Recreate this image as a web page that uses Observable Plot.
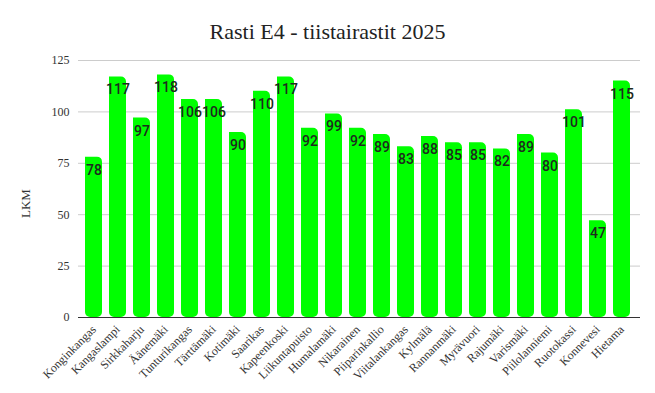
<!DOCTYPE html>
<html><head><meta charset="utf-8">
<script src="https://cdn.jsdelivr.net/npm/d3@7"></script>
<script src="https://cdn.jsdelivr.net/npm/@observablehq/plot@0.6"></script>
<style>
body{margin:0;background:#fff;}
#title{font-family:"Liberation Serif",serif;font-size:22px;color:#222;text-align:center;height:49px;line-height:64px;width:655px;}
#chart g[aria-label$="tick label"], #chart g[aria-label$="tick label"] text{font-family:"Liberation Serif",serif !important;font-size:12px !important;}
</style>
</head><body>
<div id="title">Rasti E4 - tiistairastit 2025</div>
<div id="chart"></div>
<script>
const places = ["Konginkangas","Kangaslampi","Sirkkaharju","Äänemäki","Tunturikangas","Tärttämäki","Kotimäki","Saarikas","Kapeenkoski","Liikuntapuisto","Humalamäki","Nikarainen","Piiparinkallio","Viitalankangas","Kylmälä","Rannanmäki","Myrävuori","Rajumäki","Varismäki","Piilolanniemi","Ruotokassi","Konnevesi","Hietama"];
const counts = [78,117,97,118,106,106,90,110,117,92,99,92,89,83,88,85,85,82,89,80,101,47,115];
const yTicks = [0,25,50,75,100,125];
const yLabel = "LKM";
const data = places.map((p,i)=>({place:p,count:counts[i]}));
const serif = "Liberation Serif, serif";

const chart = Plot.plot({
  width:655, height:345,
  marginLeft:78, marginRight:15, marginTop:11, marginBottom:77,
  style:{fontFamily:serif, fontSize:"12px", color:"#333"},
  x:{domain:places, paddingInner:0.29, paddingOuter:0.15, insetRight:3},
  y:{domain:[0,125]},
  marks:[
    Plot.gridY(yTicks,{stroke:"#ccc", strokeOpacity:1}),
    Plot.axisY(yTicks,{tickSize:0, tickPadding:9, label:null, fontSize:12, fontFamily:serif, fill:"#333"}),
    Plot.axisX({tickRotate:-45, tickSize:0, tickPadding:10, label:null, fontSize:12, fontFamily:serif, fill:"#333"}),
    Plot.text([yLabel],{frameAnchor:"left", dx:-53, dy:29, rotate:-90, fontSize:13, fill:"#333", fontFamily:serif}),
    Plot.barY(data,{x:"place", y:"count", fill:"#00ff00", ry2:5, rx2:5}),
    Plot.ruleY([0],{stroke:"#333"}),
    Plot.text(data,{x:"place", y:"count", text:d=>String(d.count), dy:13, fill:"#1e2a1e", fontFamily:"Roboto, sans-serif", fontSize:14, fontWeight:500})
  ]
});
document.getElementById("chart").appendChild(chart);
</script>
</body></html>
